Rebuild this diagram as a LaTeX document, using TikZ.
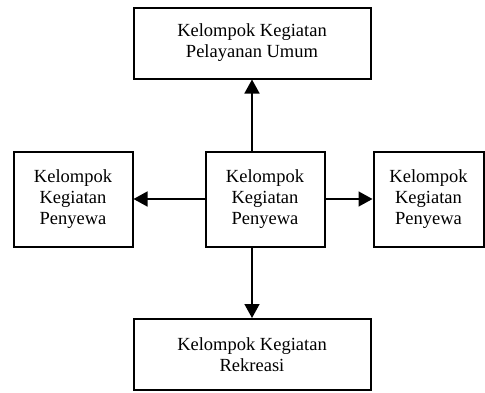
\documentclass[tikz,border=0pt]{standalone}
\usepackage{fontspec}
\setmainfont{Liberation Serif}
\usetikzlibrary{arrows.meta}

\begin{document}
\begin{tikzpicture}[x=1pt,y=1pt,
	kotak/.style={draw,line width=2pt,align=center,inner sep=0pt,font=\fontsize{18.5}{21}\selectfont},
	panah/.style={line width=1.5pt,-{Triangle[width=15pt,length=14pt]}}]
			%%%%% START %%%%%
			\def\lbr{237pt}
			\def\lkc{119pt}
			\def\tkc{95pt}
			\def\tbr{71pt}
			\def\ytgh{-199}
			
			\useasboundingbox (0,0) rectangle (485,-392);
			
			\node[kotak,minimum width=\lbr,minimum height=\tbr] (umum) at (252,-43) {Kelompok Kegiatan\\Pelayanan Umum};
			\node[kotak,minimum width=\lkc,minimum height=\tkc] (kiri) at (73,\ytgh) {Kelompok\\Kegiatan\\Penyewa};
			\node[kotak,minimum width=\lkc,minimum height=\tkc] (tengah) at (265,\ytgh) {Kelompok\\Kegiatan\\Penyewa};
			\node[kotak,minimum width=110pt,minimum height=\tkc] (kanan) at (428.5,\ytgh) {Kelompok\\Kegiatan\\Penyewa};
			\node[kotak,minimum width=\lbr,minimum height=\tbr] (rekreasi) at (252,-354.5) {Kelompok Kegiatan\\Rekreasi};
			
			\draw[panah] (umum.south |- tengah.north) -- (umum.south);
			\draw[panah] (tengah.west) -- (kiri.east);
			\draw[panah] (tengah.east) -- (kanan.west);
			\draw[panah] (rekreasi.north |- tengah.south) -- (rekreasi.north);
			%%%%% END %%%%%
\end{tikzpicture}
\end{document}
